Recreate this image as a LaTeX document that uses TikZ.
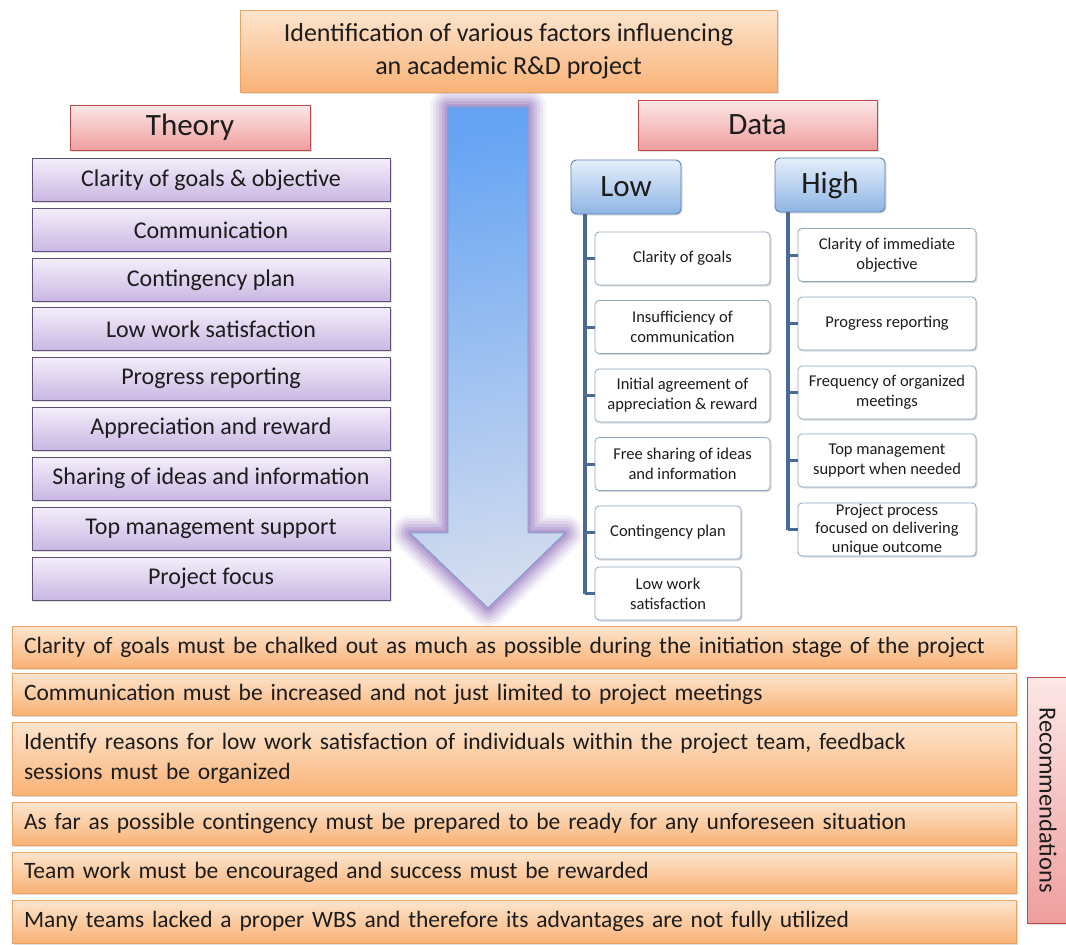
\documentclass[tikz,border=0pt]{standalone}
\usepackage{fontspec}
\setmainfont{Carlito}
\newfontfamily\condfont[WordSpace=0.6]{Carlito}
\usetikzlibrary{shadows}

\definecolor{orangeTop}{HTML}{FDE5CE}
\definecolor{orangeBot}{HTML}{F9B276}
\definecolor{orangeLine}{HTML}{EBA262}
\definecolor{pinkTop}{HTML}{FCE7E7}
\definecolor{pinkBot}{HTML}{EF9E9E}
\definecolor{pinkLine}{HTML}{BE4B48}
\definecolor{lavTop}{HTML}{F4EEFA}
\definecolor{lavBot}{HTML}{C9B7E3}
\definecolor{lavLine}{HTML}{5E5078}
\definecolor{blueTop}{HTML}{E4EFFB}
\definecolor{blueBot}{HTML}{8FB5E4}
\definecolor{blueLine}{HTML}{5B7FB0}
\definecolor{trunk}{HTML}{4A6A96}
\definecolor{leafLine}{HTML}{8FA6C0}
\definecolor{arrowTop}{HTML}{66A4F3}
\definecolor{arrowBot}{HTML}{D3DCEF}
\definecolor{arrowLine}{HTML}{7C9CC8}
\definecolor{glow}{HTML}{8E6CBA}
\definecolor{ink}{HTML}{1C1C1C}

\tikzset{
  box/.style={draw, line width=0.9pt, inner sep=0pt, text=ink, align=center,
    drop shadow={opacity=0.25, shadow xshift=1.5pt, shadow yshift=-1.5pt}},
  orangebox/.style={box, draw=orangeLine, top color=orangeTop, bottom color=orangeBot},
  pinkbox/.style={box, draw=pinkLine, top color=pinkTop, bottom color=pinkBot},
  lavbox/.style={box, draw=lavLine, top color=lavTop, bottom color=lavBot,
    minimum width=358pt, minimum height=43pt, font=\fontsize{24}{28}\selectfont},
  levelbox/.style={box, draw=blueLine, rounded corners=5pt, top color=blueTop, bottom color=blueBot,
    minimum width=110pt, minimum height=54pt, font=\fontsize{31}{35}\selectfont},
  leaf/.style={box, draw=leafLine, fill=white, rounded corners=4pt, line width=0.8pt,
    drop shadow={opacity=0.12, shadow xshift=1pt, shadow yshift=-1pt},
    minimum height=53pt, font=\fontsize{16.5}{20}\selectfont},
  lowleaf/.style={leaf, minimum width=175pt},
  highleaf/.style={leaf, minimum width=178pt},
  recbox/.style={orangebox, minimum width=1004pt, align=left, text width=980pt,
    font=\condfont\fontsize{23.5}{30}\selectfont},
  branch/.style={draw=trunk, line width=3.5pt},
  stub/.style={draw=trunk, line width=3pt},
}

\begin{document}
\begin{tikzpicture}[x=1pt, y=-1pt]
\useasboundingbox (0,0) rectangle (1066,945);
\fill[white] (0,0) rectangle (1066,945);

% big downward arrow with a soft purple halo
\def\arrowpath{(448,107) -- (528,107) -- (528,533) -- (565,533) -- (488,608) -- (410,533) -- (448,533) -- cycle}
\foreach \w/\o in {36/0.08, 30/0.11, 24/0.14, 18/0.17, 12/0.22, 6/0.28}
  \draw[glow, line width=\w pt, line join=round, opacity=\o] \arrowpath;
\shade[top color=arrowTop, bottom color=arrowBot, shading angle=10] \arrowpath;
\draw[arrowLine, line width=0.8pt, line join=miter] \arrowpath;

% header
\node[orangebox, minimum width=537pt, minimum height=82pt, font=\fontsize{26}{33}\selectfont]
  (head) at (508.5,51) {Identification of various factors influencing\\an academic R\&D project};

\node[pinkbox, minimum width=240pt, minimum height=45pt, font=\fontsize{31}{35}\selectfont]
  (theory) at (190,127.5) {Theory};
\node[pinkbox, minimum width=239pt, minimum height=50pt, font=\fontsize{31}{35}\selectfont]
  (data) at (757.5,125) {Data};

% theory factors
\node[lavbox] (t1) at (211,180)   {Clarity of goals \& objective};
\node[lavbox] (t2) at (211,230)   {Communication};
\node[lavbox] (t3) at (211,280)   {Contingency plan};
\node[lavbox] (t4) at (211,329)   {Low work satisfaction};
\node[lavbox] (t5) at (211,378.5) {Progress reporting};
\node[lavbox] (t6) at (211,428.5) {Appreciation and reward};
\node[lavbox] (t7) at (211,478.5) {Sharing of ideas and information};
\node[lavbox] (t8) at (211,528.5) {Top management support};
\node[lavbox] (t9) at (211,578.5) {Project focus};

% data: low / high
\node[levelbox] (low)  at (626,187) {Low};
\node[levelbox] (high) at (830,185) {High};

\node[lowleaf] (l1) at (682.5,258.5) {Clarity of goals};
\node[lowleaf] (l2) at (682.5,327)   {Insufficiency of\\communication};
\node[lowleaf] (l3) at (682.5,395.5) {Initial agreement of\\appreciation \& reward};
\node[lowleaf] (l4) at (682.5,464)   {Free sharing of ideas\\and information};
\node[leaf, minimum width=146pt] (l5) at (668,532.5) {Contingency plan};
\node[leaf, minimum width=146pt] (l6) at (668,593.5) {Low work\\satisfaction};

\node[highleaf] (h1) at (887,255)   {Clarity of immediate\\objective};
\node[highleaf] (h2) at (887,323.5) {Progress reporting};
\node[highleaf] (h3) at (887,392.5) {Frequency of organized\\meetings};
\node[highleaf] (h4) at (887,460.5) {Top management\\support when needed};
\node[highleaf, font=\fontsize{16.5}{18.5}\selectfont] (h5) at (887,529.5) {Project process\\focused on delivering\\unique outcome};

% tree trunks and branches
\coordinate (lowtop)  at (585,214);
\coordinate (lowend)  at (585,593.5);
\coordinate (hightop) at (788,212);
\coordinate (highend) at (788,529.5);
\draw[branch] (lowtop) -- (lowend);
\draw[branch] (hightop) -- (highend);
\foreach \n in {l1,l2,l3,l4,l5,l6}
  \draw[stub] (lowend |- \n.west) -- (\n.west);
\foreach \n in {h1,h2,h3,h4,h5}
  \draw[stub] (highend |- \n.west) -- (\n.west);

% recommendations
\node[recbox, minimum height=42pt] (r1) at (514,647)   {Clarity of goals must be chalked out as much as possible during the initiation  stage of the project};
\node[recbox, minimum height=42pt] (r2) at (514,694)   {Communication must be increased and not just limited  to project meetings};
\node[recbox, minimum height=73pt] (r3) at (514,758.5) {Identify reasons for low work satisfaction of individuals within the project team, feedback\\sessions must be organized};
\node[recbox, minimum height=43pt] (r4) at (514,823.5) {As far as possible contingency must be prepared to be ready for any unforeseen situation};
\node[recbox, minimum height=41pt] (r5) at (514,872.5) {Team work must be encouraged and success must be rewarded};
\node[recbox, minimum height=43pt] (r6) at (514,921.5) {Many teams lacked a proper WBS and therefore its advantages are not fully utilized};

\node[pinkbox, minimum width=246pt, minimum height=42pt, rotate=-90, font=\fontsize{24.5}{28}\selectfont]
  (recs) at (1048,800) {Recommendations};
\end{tikzpicture}
\end{document}
